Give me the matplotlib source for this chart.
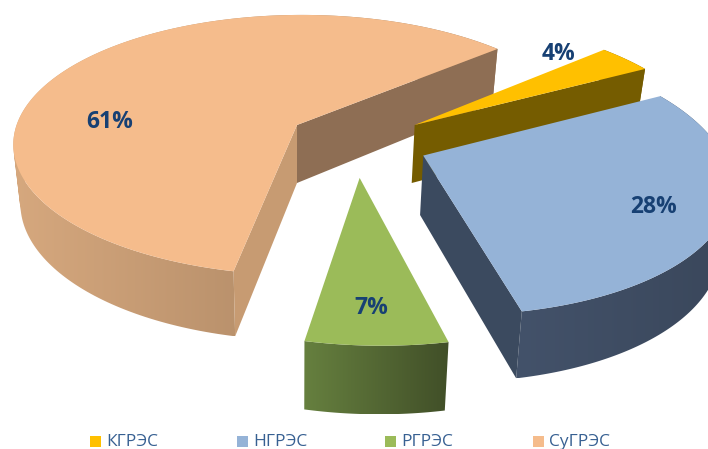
import matplotlib
matplotlib.use('Agg')
import matplotlib.pyplot as plt
import numpy as np
from matplotlib.colors import LinearSegmentedColormap
from matplotlib.patches import Polygon, Rectangle
from matplotlib.path import Path

plt.rcParams['font.family'] = ['Open Sans', 'DejaVu Sans']

names = ['КГРЭС', 'НГРЭС', 'РГРЭС', 'СуГРЭС']
shares = [4, 28, 7, 61]
labels = ['4%', '28%', '7%', '61%']

top_colors = ['#FFC000', '#95B3D7', '#9BBB59', '#F5BC8C']
# wall of the rim: left and right colour of the gradient
rim_colors = [('#7F6000', '#7F6000'), ('#43526A', '#3A475B'),
              ('#66803F', '#414F28'), ('#D6A87E', '#9A7858')]
# cut wall at the start of the slice (clockwise) and at its end, None = faces away
cut_colors = [(None, '#755C00'), (None, '#3B4A5F'),
              (None, None), ('#C79B72', '#8E6E54')]

# pull out of each slice on the pie plane, and its radius
explode = [(0.408, 0.0), (0.422, -0.23), (0.205, -0.39), (0.0, 0.0)]
radius = [0.98, 0.975, 0.975, 1.0]
# the drawing's perspective moves the cuts a little, in degrees
cut_shift = [0, 2, -2.8, -1, 0]
label_pos = [(559, 54), (654, 207), (371, 308), (110, 122)]

START = 40.5
CX, CY = 297, 125
A, B, P, Q = 286, 127, 0.154, -0.02


def top(px, py):
    w = 1 + P * py + Q * px
    return CX + A * px / w, CY - B * py / w


def bottom(x, y):
    return CX + (x - CX) * 0.975, y + 58 + (y - 125) * 0.048


def strip_path(rx, ry, bx, by):
    # one quad per step, all the same way round, so the silhouette gets filled
    verts = []
    codes = []
    for k in range(len(rx) - 1):
        q = [(rx[k], ry[k]), (rx[k + 1], ry[k + 1]), (bx[k + 1], by[k + 1]), (bx[k], by[k])]
        xs, ys = zip(*q)
        area = sum(xs[j] * ys[(j + 1) % 4] - xs[(j + 1) % 4] * ys[j] for j in range(4))
        if area < 0:
            q = q[::-1]
        verts += q + [q[0]]
        codes += [Path.MOVETO, Path.LINETO, Path.LINETO, Path.LINETO, Path.CLOSEPOLY]
    return Path(verts, codes)


def gradient(ax, path, left, right, z):
    xs = path.vertices[:, 0]
    ys = path.vertices[:, 1]
    cmap = LinearSegmentedColormap.from_list('g', [left, right])
    im = ax.imshow(np.linspace(0, 1, 256)[None, :], cmap=cmap, aspect='auto',
                   extent=(xs.min(), xs.max(), ys.max(), ys.min()), zorder=z)
    im.set_clip_path(path, transform=ax.transData)


fig = plt.figure(figsize=(7.08, 4.49), dpi=100)
ax = fig.add_axes([0, 0, 1, 1])

edges = START - np.cumsum([0] + shares) * 3.6 + np.array(cut_shift)
z = 1
for i in [3, 0, 1, 2]:
    th = np.linspace(np.radians(edges[i]), np.radians(edges[i + 1]), 200)
    ex, ey = explode[i]
    rx, ry = top(ex + radius[i] * np.cos(th), ey + radius[i] * np.sin(th))
    ax0, ay0 = top(ex, ey)
    bx, by = bottom(rx, ry)
    bax, bay = bottom(ax0, ay0)

    gradient(ax, strip_path(rx, ry, bx, by), rim_colors[i][0], rim_colors[i][1], z)
    first = np.array([[ax0, ay0], [rx[0], ry[0]], [bx[0], by[0]], [bax, bay]])
    second = np.array([[ax0, ay0], [rx[-1], ry[-1]], [bx[-1], by[-1]], [bax, bay]])
    if cut_colors[i][0]:
        ax.add_patch(Polygon(first, fc=cut_colors[i][0], ec='none', zorder=z + 1))
    if cut_colors[i][1]:
        ax.add_patch(Polygon(second, fc=cut_colors[i][1], ec='none', zorder=z + 1))
    face = np.vstack([[ax0, ay0], np.c_[rx, ry]])
    ax.add_patch(Polygon(face, fc=top_colors[i], ec='none', zorder=z + 2))
    z += 3

for lab, (x, y) in zip(labels, label_pos):
    ax.text(x, y, lab, ha='center', va='center', fontsize=16.5, fontweight='bold',
            color='#174073', zorder=50)

legend_x = [90, 237, 385, 533]
for x, name, col in zip(legend_x, names, top_colors):
    ax.add_patch(Rectangle((x, 436), 11, 11, fc=col, ec='none', zorder=50))
    ax.text(x + 16, 442, name, ha='left', va='center', fontsize=12.5,
            color='#376092', zorder=50)

ax.set_xlim(0, 708)
ax.set_ylim(449, 0)
ax.axis('off')
fig.savefig('out.png', dpi=100)
